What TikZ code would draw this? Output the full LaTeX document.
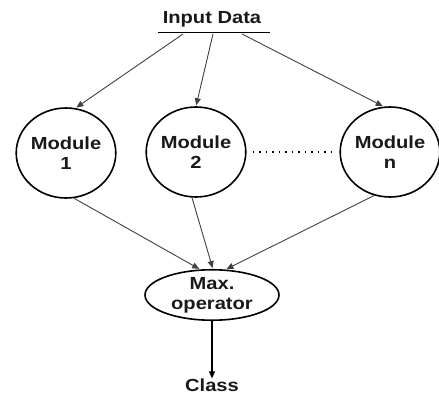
\documentclass[tikz,border=0pt]{standalone}
\usepackage{fontspec}
\setmainfont{Liberation Sans}[FakeStretch=1.15]
\usetikzlibrary{shapes.geometric,arrows.meta}
\begin{document}
\begin{tikzpicture}[x=1pt,y=-1pt,
  txt/.style={font=\fontsize{17.5}{20}\selectfont\bfseries, text=black!90, align=center, inner sep=0pt},
  modnode/.style={txt, draw=black, line width=1.6pt, ellipse, minimum width=97pt, minimum height=90pt},
  maxnode/.style={txt, draw=black, line width=1.6pt, ellipse, minimum width=134pt, minimum height=50pt},
  conn/.style={draw=black!75, line width=0.9pt, -{Triangle[length=7pt,width=6pt]}, shorten >=1pt}]
\useasboundingbox (0,0) rectangle (439,395);
\node[txt] (in) at (212,19) {Input Data};
\coordinate (ul) at (158,33);
\coordinate (ur) at (270,33);
\draw[line width=1pt] (ul) -- (ur);
\coordinate (s1) at (183,34);
\coordinate (s2) at (213,34);
\coordinate (s3) at (242,34);
\node[modnode] (m1) at (66,153) {Module\\1};
\node[modnode] (m2) at (196,152) {Module\\2};
\node[modnode] (mn) at (390,152) {Module\\n};
\node[maxnode] (mx) at (212,295) {Max.\\operator};
\node[txt] (cl) at (212,385) {Class};
\draw[conn] (s1) -- (m1.78);
\draw[conn] (s2) -- (m2.90);
\draw[conn] (s3) -- (mn.98);
\draw[black, line width=1.2pt, dash pattern=on 1.5pt off 5pt] ([xshift=6pt]m2.east) -- ([xshift=-6pt]mn.west);
\draw[conn] (m1.-80) -- (mx.115);
\draw[conn] (m2.-95) -- (mx.88);
\draw[conn] (mn.-110) -- (mx.62);
\draw[line width=1.2pt, -{Triangle[length=7pt,width=6pt]}] (mx.south) -- (cl.north);
\end{tikzpicture}
\end{document}
